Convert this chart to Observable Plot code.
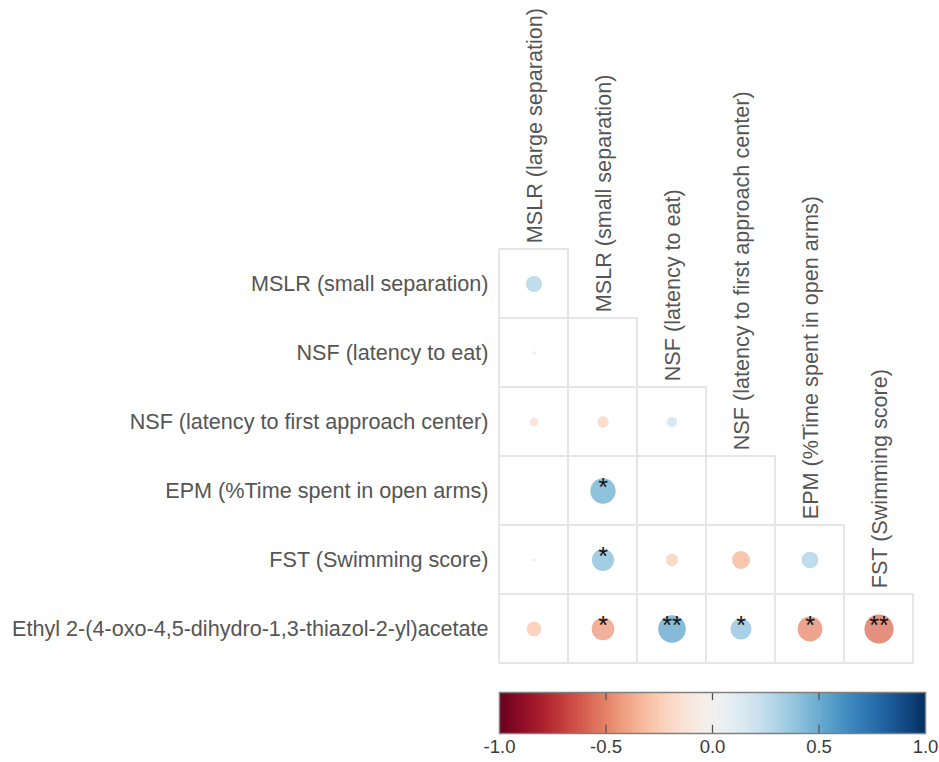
<!DOCTYPE html>
<html>
<head>
<meta charset="utf-8">
<script src="https://cdn.jsdelivr.net/npm/d3@7"></script>
<script src="https://cdn.jsdelivr.net/npm/@observablehq/plot@0.6"></script>
<style>
  html, body { margin: 0; padding: 0; background: #fff; }
  #chart svg, #bar svg { display: block; }
</style>
</head>
<body>
<div id="chart"></div>
<div id="bar"></div>
<script>
// ---- data ----
const rowLabels = [
  "MSLR (small separation)",
  "NSF (latency to eat)",
  "NSF (latency to first approach center)",
  "EPM (%Time spent in open arms)",
  "FST (Swimming score)",
  "Ethyl 2-(4-oxo-4,5-dihydro-1,3-thiazol-2-yl)acetate"
];
const colLabels = [
  "MSLR (large separation)",
  "MSLR (small separation)",
  "NSF (latency to eat)",
  "NSF (latency to first approach center)",
  "EPM (%Time spent in open arms)",
  "FST (Swimming score)"
];
// correlation coefficients, row by row (lower triangle)
const corrRow0 = [0.30];
const corrRow1 = [-0.07, -0.03];
const corrRow2 = [-0.16, -0.21, 0.19];
const corrRow3 = [0.02, 0.47, 0.02, -0.01];
const corrRow4 = [0.07, 0.41, -0.23, -0.33, 0.31];
const corrRow5 = [-0.27, -0.42, 0.51, 0.39, -0.46, -0.54];
// significance marks
const sigRow0 = [""];
const sigRow1 = ["", ""];
const sigRow2 = ["", "", ""];
const sigRow3 = ["", "*", "", ""];
const sigRow4 = ["", "*", "", "", ""];
const sigRow5 = ["", "*", "**", "*", "*", "**"];
// colorbar
const colorDomain = [-1, 1];
const tickValues = [-1, -0.5, 0, 0.5, 1];
const tickLabels = ["-1.0", "-0.5", "0.0", "0.5", "1.0"];

const corrRows = [corrRow0, corrRow1, corrRow2, corrRow3, corrRow4, corrRow5];
const sigRows = [sigRow0, sigRow1, sigRow2, sigRow3, sigRow4, sigRow5];
const cells = [];
corrRows.forEach((vals, i) => vals.forEach((v, j) => {
  cells.push({row: rowLabels[i], col: colLabels[j], value: v, sig: sigRows[i][j]});
}));
const colHeads = colLabels.map((c, j) => ({col: c, row: rowLabels[j]}));

const font = "'Liberation Sans', Arial, Helvetica, sans-serif";
const textColor = "#555555";
const colorScale = {type: "linear", scheme: "RdBu", domain: colorDomain};

const W = 939, H = 680;
const mTop = 247, mBottom = 16, mLeft = 498, mRight = 25;
const bandH = (H - mTop - mBottom) / rowLabels.length;

const chart = Plot.plot({
  width: W,
  height: H,
  marginTop: mTop,
  marginBottom: mBottom,
  marginLeft: mLeft,
  marginRight: mRight,
  style: {fontFamily: font, fontSize: "21.6px", color: textColor, background: "#fff", overflow: "visible"},
  x: {domain: colLabels, padding: 0, axis: null},
  y: {domain: rowLabels, padding: 0, tickSize: 0, tickPadding: 10, label: null},
  r: {type: "linear", domain: [0, 1], range: [0, 27]},
  color: colorScale,
  marks: [
    Plot.cell(cells, {x: "col", y: "row", fill: "white", stroke: "#e6e6e6", strokeWidth: 2, inset: 0}),
    Plot.dot(cells, {x: "col", y: "row", r: d => Math.abs(d.value), fill: "value", fillOpacity: 0.8}),
    Plot.text(cells.filter(d => d.sig), {x: "col", y: "row", text: "sig", fill: "#111", fontSize: 25, dy: -3, fontFamily: font}),
    Plot.text(colHeads, {x: "col", y: "row", text: "col", rotate: -90, textAnchor: "start", dy: -(bandH / 2 + 6), dx: 1, fill: textColor, fontSize: 21.6, fontFamily: font})
  ]
});
document.getElementById("chart").append(chart);

const steps = d3.range(240).map(i => {
  const x1 = colorDomain[0] + (colorDomain[1] - colorDomain[0]) * i / 240;
  const x2 = colorDomain[0] + (colorDomain[1] - colorDomain[0]) * (i + 1) / 240;
  return {x1, x2, v: (x1 + x2) / 2};
});

const bar = Plot.plot({
  width: W,
  height: 82,
  marginTop: 12,
  marginBottom: 29,
  marginLeft: 499,
  marginRight: 14,
  style: {fontFamily: font, fontSize: "18px", color: textColor, background: "#fff", overflow: "visible"},
  x: {domain: colorDomain, axis: null},
  y: {domain: [0, 1], axis: null},
  color: colorScale,
  marks: [
    Plot.rect(steps, {x1: "x1", x2: d => d.x2 + 0.004, y1: 0, y2: 1, fill: "v"}),
    Plot.ruleX(tickValues.slice(1, -1), {y1: 1, y2: 0.8, stroke: "#555", strokeWidth: 1.3}),
    Plot.ruleX(tickValues.slice(1, -1), {y1: 0, y2: 0.2, stroke: "#555", strokeWidth: 1.3}),
    Plot.frame({stroke: "#808080", strokeWidth: 1.5}),
    Plot.text(tickValues, {x: d => d, text: (d, i) => tickLabels[i], frameAnchor: "bottom", dy: 19, fill: "#3a3a3a", fontSize: 18.5})
  ]
});
document.getElementById("bar").append(bar);
</script>
</body>
</html>
